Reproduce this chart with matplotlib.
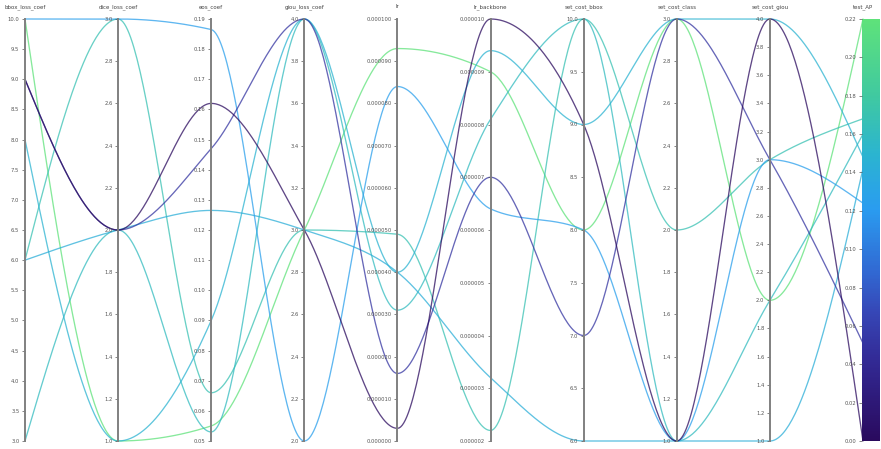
import numpy as np
import matplotlib
matplotlib.use("Agg")
import matplotlib.pyplot as plt
from matplotlib.colors import LinearSegmentedColormap, Normalize
from matplotlib.colorbar import ColorbarBase

# hyperparameter sweep, one entry per run
bbox_loss_coef = [9.0, 9.0, 10.0, 10.0, 8.0, 6.0, 6.0, 3.0]
dice_loss_coef = [2.0, 2.0, 1.0, 3.0, 1.0, 2.0, 3.0, 2.0]
eos_coef = [0.162, 0.147, 0.055, 0.1865, 0.090, 0.1265, 0.066, 0.053]
giou_loss_coef = [3.0, 4.0, 3.0, 2.0, 4.0, 3.0, 3.0, 4.0]
lr = [0.000003, 0.000016, 0.000093, 0.000084, 0.000040, 0.000040, 0.000049, 0.000031]
lr_backbone = [0.0000100, 0.0000070, 0.0000090, 0.0000064, 0.0000094, 0.0000032, 0.0000022, 0.0000081]
set_cost_bbox = [9.0, 7.0, 8.0, 8.0, 9.0, 6.0, 10.0, 10.0]
set_cost_class = [1.0, 3.0, 3.0, 1.0, 3.0, 1.0, 2.0, 1.0]
set_cost_giou = [4.0, 3.0, 2.0, 3.0, 4.0, 1.0, 3.0, 2.0]
test_AP = [0.000, 0.051, 0.220, 0.124, 0.148, 0.142, 0.168, 0.160]

names = ["bbox_loss_coef", "dice_loss_coef", "eos_coef", "giou_loss_coef", "lr",
         "lr_backbone", "set_cost_bbox", "set_cost_class", "set_cost_giou", "test_AP"]
columns = [bbox_loss_coef, dice_loss_coef, eos_coef, giou_loss_coef, lr,
           lr_backbone, set_cost_bbox, set_cost_class, set_cost_giou, test_AP]

# axis ranges, tick steps and label formats
limits = [(3.0, 10.0), (1.0, 3.0), (0.05, 0.19), (2.0, 4.0), (0.0, 0.0001),
          (0.000002, 0.00001), (6.0, 10.0), (1.0, 3.0), (1.0, 4.0), (0.0, 0.22)]
steps = [0.5, 0.2, 0.01, 0.2, 0.00001, 0.000001, 0.5, 0.2, 0.2, 0.02]
fmts = ["%.1f", "%.1f", "%.2f", "%.1f", "%.6f", "%.6f", "%.1f", "%.1f", "%.1f", "%.2f"]

cmap = LinearSegmentedColormap.from_list("ap", [
    (0.00, "#2a0a5e"), (0.10, "#2e1a7a"), (0.20, "#332c98"), (0.30, "#3645b5"),
    (0.40, "#3168d2"), (0.55, "#2a9cf0"), (0.68, "#2bb4d0"), (0.82, "#40c9a0"),
    (1.00, "#5ee27a")])
norm = Normalize(0.0, 0.22)


def monotone(ys, n=60):
    # cubic hermite with monotone slopes (same rule as d3.curveMonotoneX)
    ys = np.asarray(ys, float)
    s = np.diff(ys)
    m = np.zeros(len(ys))
    for i in range(1, len(ys) - 1):
        p = (s[i - 1] + s[i]) / 2
        sg = (1 if s[i - 1] >= 0 else -1) + (1 if s[i] >= 0 else -1)
        m[i] = sg * min(abs(s[i - 1]), abs(s[i]), 0.5 * abs(p))
    m[0] = (3 * s[0] - m[1]) / 2
    m[-1] = (3 * s[-1] - m[-2]) / 2
    xs_out, ys_out = [], []
    t = np.linspace(0, 1, n)
    for i in range(len(ys) - 1):
        h00 = 2 * t**3 - 3 * t**2 + 1
        h10 = t**3 - 2 * t**2 + t
        h01 = -2 * t**3 + 3 * t**2
        h11 = t**3 - t**2
        xs_out.append(i + t)
        ys_out.append(h00 * ys[i] + h10 * m[i] + h01 * ys[i + 1] + h11 * m[i + 1])
    return np.concatenate(xs_out), np.concatenate(ys_out)


W, H = 881, 449
x0, x1, ytop, ybot = 25, 863, 19, 441
fig = plt.figure(figsize=(W / 100, H / 100), dpi=100)
fig.patch.set_facecolor("white")

bottom = (H - ybot) / H
height = (ybot - ytop) / H
ax = fig.add_axes([x0 / W, bottom, (x1 - x0) / W, height])
ax.set_xlim(0, len(names) - 1)
ax.set_ylim(0, 1)
ax.axis("off")

# runs with lower AP drawn on top
order = np.argsort(test_AP)[::-1]
for r in order:
    norm_vals = [(col[r] - lo) / (hi - lo) for col, (lo, hi) in zip(columns, limits)]
    xs, ys = monotone(norm_vals)
    ax.plot(xs, ys, color=cmap(norm(test_AP[r])), lw=0.95, alpha=0.75,
            clip_on=False, solid_capstyle="round")

# one vertical axis per hyperparameter
for i, name in enumerate(names):
    xp = x0 + i * (x1 - x0) / (len(names) - 1)
    lo, hi = limits[i]
    ticks = lo + steps[i] * np.arange(int(round((hi - lo) / steps[i])) + 1)
    if name == "test_AP":
        cax = fig.add_axes([(xp - 1) / W, bottom, 18 / W, height])
        cb = ColorbarBase(cax, cmap=cmap, norm=norm, orientation="vertical",
                          ticklocation="left")
        cb.outline.set_visible(False)
        cb.set_ticks(ticks)
        cb.set_ticklabels([fmts[i] % v for v in ticks])
        cax.tick_params(axis="y", labelsize=3.8, length=2.5, width=0.5,
                        colors="#555555", pad=1.5)
    else:
        a = fig.add_axes([xp / W, bottom, 0.0001, height])
        a.patch.set_visible(False)
        for sp in ("top", "right", "bottom"):
            a.spines[sp].set_visible(False)
        a.spines["left"].set_color("#808080")
        a.spines["left"].set_linewidth(1.4)
        a.set_xticks([])
        a.set_ylim(lo, hi)
        a.set_yticks(ticks)
        a.set_yticklabels([fmts[i] % v for v in ticks])
        a.tick_params(axis="y", labelsize=3.8, length=2.5, width=0.5,
                      colors="#555555", pad=1.5)
    fig.text(xp / W, 1 - 7 / H, name, ha="center", va="center",
             fontsize=4.0, color="#444444")

fig.savefig("out.png", dpi=100)
